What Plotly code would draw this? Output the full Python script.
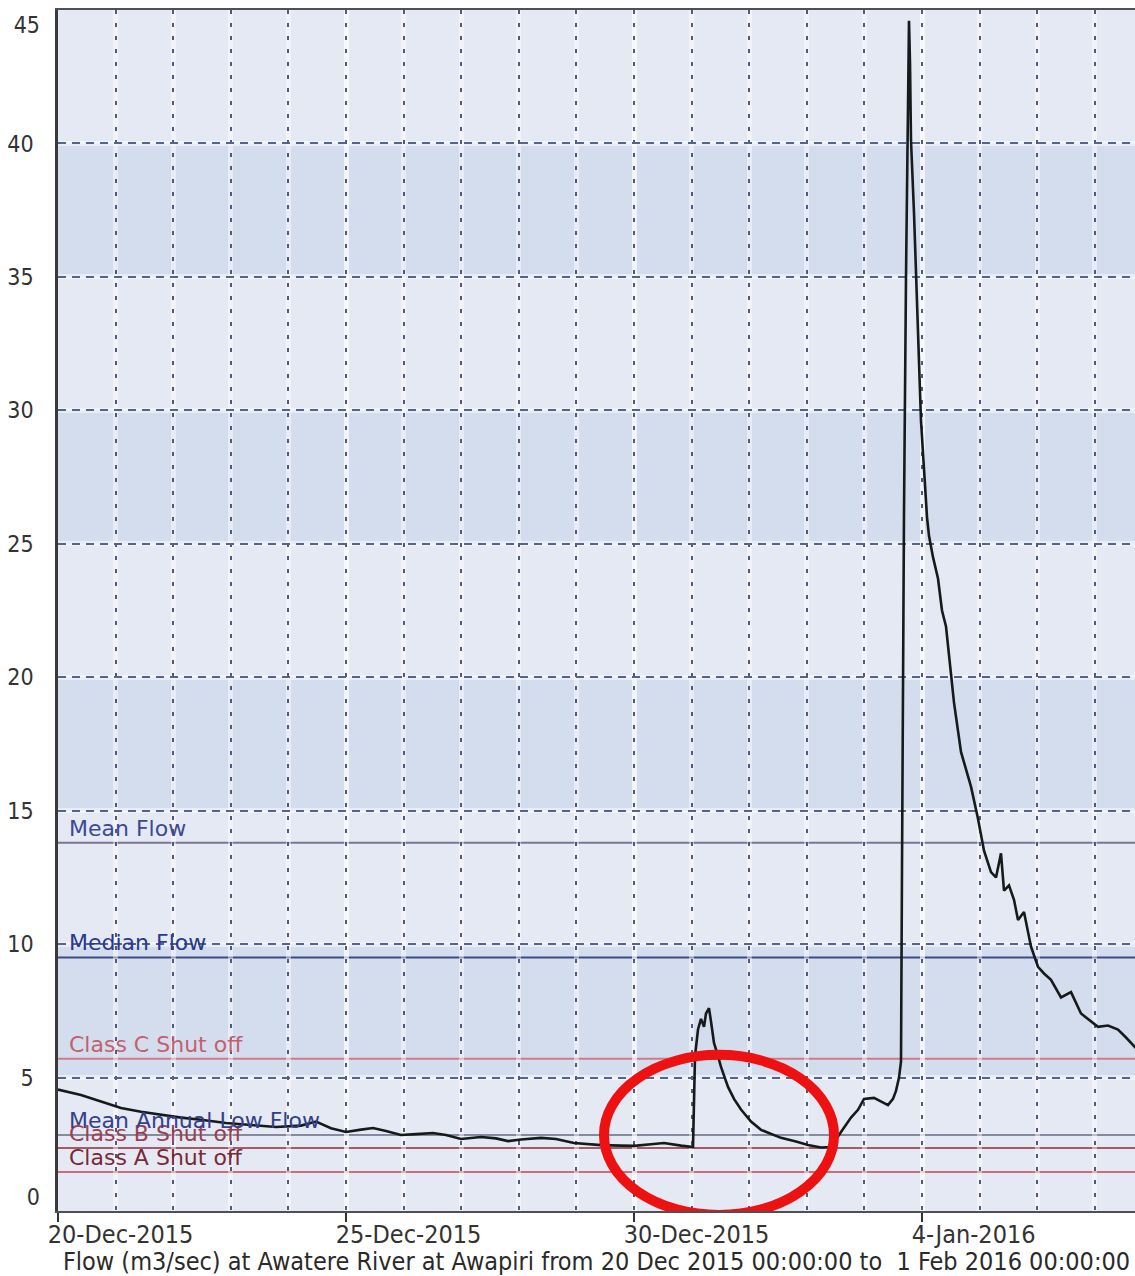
import plotly.graph_objects as go

# ---------------- data ----------------
times = [
    "2015-12-20 00:00", "2015-12-20 09:35", "2015-12-20 17:55", "2015-12-21 02:15",
    "2015-12-21 10:35", "2015-12-21 18:55", "2015-12-22 03:15", "2015-12-22 11:35",
    "2015-12-22 22:00", "2015-12-23 08:25", "2015-12-23 18:50", "2015-12-24 05:15",
    "2015-12-24 11:30", "2015-12-24 17:45", "2015-12-25 00:00", "2015-12-25 06:15",
    "2015-12-25 11:15", "2015-12-25 16:40", "2015-12-25 22:55", "2015-12-26 05:10",
    "2015-12-26 12:15", "2015-12-26 17:40", "2015-12-26 23:55", "2015-12-27 08:15",
    "2015-12-27 14:30", "2015-12-27 19:30", "2015-12-28 00:55", "2015-12-28 09:15",
    "2015-12-28 15:30", "2015-12-28 23:00", "2015-12-29 06:05", "2015-12-29 10:15",
    "2015-12-29 18:35", "2015-12-30 00:00", "2015-12-30 07:05", "2015-12-30 12:30",
    "2015-12-30 19:35", "2015-12-30 23:45", "2015-12-31 00:35", "2015-12-31 01:25",
    "2015-12-31 02:40", "2015-12-31 03:55", "2015-12-31 05:10", "2015-12-31 06:00",
    "2015-12-31 07:15", "2015-12-31 08:05", "2015-12-31 09:20", "2015-12-31 11:00",
    "2015-12-31 12:15", "2015-12-31 15:10", "2015-12-31 17:40", "2015-12-31 20:35",
    "2016-01-01 00:45", "2016-01-01 04:55", "2016-01-01 09:05", "2016-01-01 13:15",
    "2016-01-01 19:30", "2016-01-02 00:30", "2016-01-02 05:55", "2016-01-02 10:05",
    "2016-01-02 14:15", "2016-01-02 18:25", "2016-01-02 21:20", "2016-01-02 23:50",
    "2016-01-03 04:00", "2016-01-03 06:55", "2016-01-03 09:50", "2016-01-03 11:55",
    "2016-01-03 13:10", "2016-01-03 14:25", "2016-01-03 15:15", "2016-01-03 15:40",
    "2016-01-03 16:05", "2016-01-03 16:30", "2016-01-03 17:20", "2016-01-03 18:10",
    "2016-01-03 18:35", "2016-01-03 19:00", "2016-01-03 19:25", "2016-01-03 20:40",
    "2016-01-03 21:30", "2016-01-03 22:20", "2016-01-03 23:35", "2016-01-04 00:50",
    "2016-01-04 02:05", "2016-01-04 02:55", "2016-01-04 04:35", "2016-01-04 06:40",
    "2016-01-04 08:20", "2016-01-04 10:00", "2016-01-04 11:15", "2016-01-04 13:20",
    "2016-01-04 16:15", "2016-01-04 18:20", "2016-01-04 20:25", "2016-01-04 23:20",
    "2016-01-05 01:50", "2016-01-05 04:45", "2016-01-05 06:50", "2016-01-05 08:55",
    "2016-01-05 10:10", "2016-01-05 12:15", "2016-01-05 14:20", "2016-01-05 16:00",
    "2016-01-05 18:30", "2016-01-05 21:25", "2016-01-06 00:20", "2016-01-06 02:50",
    "2016-01-06 05:45", "2016-01-06 09:55", "2016-01-06 14:05", "2016-01-06 18:15",
    "2016-01-06 22:25", "2016-01-07 01:20", "2016-01-07 05:30", "2016-01-07 09:40",
    "2016-01-07 13:00", "2016-01-07 16:20", "2016-01-07 17:10",
]
flow = [
    4.55, 4.35, 4.10, 3.86,
    3.72, 3.60, 3.50, 3.42,
    3.30, 3.22, 3.15, 3.20,
    3.35, 3.10, 2.96, 3.05,
    3.11, 3.00, 2.85, 2.88,
    2.92, 2.85, 2.70, 2.77,
    2.72, 2.62, 2.68, 2.74,
    2.70, 2.55, 2.50, 2.47,
    2.45, 2.44, 2.50, 2.55,
    2.45, 2.40, 2.40, 5.80,
    6.80, 7.20, 6.90, 7.40,
    7.60, 7.10, 6.30, 5.80,
    5.40, 4.65, 4.20, 3.80,
    3.35, 3.04, 2.88, 2.74,
    2.60, 2.47, 2.38, 2.40,
    2.96, 3.50, 3.79, 4.20,
    4.24, 4.10, 3.97, 4.20,
    4.50, 5.00, 5.60, 12.8,
    20.0, 26.2, 35.0, 42.0,
    44.6, 43.0, 40.1, 37.4,
    35.0, 32.9, 29.6, 27.8,
    26.0, 25.3, 24.5, 23.7,
    22.5, 21.9, 20.9, 19.05,
    17.2, 16.5, 15.9, 14.7,
    13.5, 12.7, 12.5, 13.4,
    12.0, 12.2, 11.66, 10.9,
    11.2, 9.9, 9.15, 8.9,
    8.66, 8.0, 8.2, 7.4,
    7.1, 6.9, 6.95, 6.8,
    6.5, 6.15, 6.1,
]

x_range = ["2015-12-20 00:00", "2016-01-07 16:45"]
x_tick_dates = ["2015-12-20", "2015-12-25", "2015-12-30", "2016-01-04"]
x_tick_labels = ["20-Dec-2015", "25-Dec-2015", "30-Dec-2015", "4-Jan-2016"]
y_range = [0, 45]
y_ticks = [0, 5, 10, 15, 20, 25, 30, 35, 40, 45]
y_tick_labels = ["0", "5", "10", "15", "20", "25", "30", "35", "40", "45"]
dark_band_low = [5, 15, 25, 35]
dark_band_high = [10, 20, 30, 40]

threshold_names = ["Mean Flow", "Median Flow", "Class C Shut off",
                   "Class B Shut off", "Mean Annual Low Flow", "Class A Shut off"]
threshold_values = [13.8, 9.5, 5.7, 2.36, 2.85, 1.46]
threshold_line_colors = ["#7a7590", "#3d4a85", "#d27a84", "#a65a66", "#868aa0", "#cc6e7a"]
threshold_text_colors = ["#3b4a94", "#2b3990", "#c4606e", "#9a4050", "#34408c", "#7a2a35"]

highlight_x = ["2015-12-29 11:30", "2016-01-02 11:20"]
highlight_y = [-0.15, 5.85]

x_title = "Flow (m3/sec) at Awatere River at Awapiri from 20 Dec 2015 00:00:00 to \u00a01 Feb 2016 00:00:00"

# ---------------- figure ----------------
DAY_MS = 86400000
NARROW = "Liberation Sans Narrow, Arial Narrow, DejaVu Sans Condensed, sans-serif"
x_tick_font = dict(family=NARROW, size=25, color="#333333")
y_tick_font = dict(family=NARROW, size=23, color="#333333")

# end labels of the y axis sit inside the plot edge in the reference
y_mid_text = [t if y_range[0] < v < y_range[1] else "" for v, t in zip(y_ticks, y_tick_labels)]
y_top_text = [t if v == y_range[1] else "" for v, t in zip(y_ticks, y_tick_labels)]
y_bottom_text = [t if v == y_range[0] else "" for v, t in zip(y_ticks, y_tick_labels)]

fig = go.Figure()
# empty traces so the base and helper axes render
fig.add_trace(go.Scatter(x=[], y=[], xaxis="x", yaxis="y", showlegend=False, hoverinfo="skip"))
fig.add_trace(go.Scatter(x=[], y=[], xaxis="x", yaxis="y3", showlegend=False, hoverinfo="skip"))
fig.add_trace(go.Scatter(
    x=times, y=flow, mode="lines", xaxis="x2", yaxis="y2",
    line=dict(color="#151a1a", width=2.6), showlegend=False,
))

shapes = []
for lo, hi in zip(dark_band_low, dark_band_high):
    shapes.append(dict(type="rect", xref="paper", yref="y", x0=0, x1=1, y0=lo, y1=hi,
                       fillcolor="#d4ddee", line=dict(width=0), layer="below"))
for val, col in zip(threshold_values, threshold_line_colors):
    shapes.append(dict(type="line", xref="paper", yref="y", x0=0, x1=1, y0=val, y1=val,
                       line=dict(color=col, width=2), layer="between"))
shapes.append(dict(type="circle", xref="x", yref="y",
                   x0=highlight_x[0], x1=highlight_x[1], y0=highlight_y[0], y1=highlight_y[1],
                   line=dict(color="#ee1111", width=10), layer="above"))

annotations = []
for name, val, col in zip(threshold_names, threshold_values, threshold_text_colors):
    annotations.append(dict(text=name, xref="paper", yref="y", x=0.008, y=val,
                            xanchor="left", yanchor="bottom", showarrow=False,
                            font=dict(family="DejaVu Sans, sans-serif", size=22, color=col)))

halo = "rgba(255,255,255,0.45)"

fig.update_layout(
    width=1135, height=1276,
    margin=dict(l=58, r=0, t=10, b=65, autoexpand=False),
    paper_bgcolor="white",
    plot_bgcolor="#e5e9f4",
    showlegend=False,
    hovermode=False,
    shapes=shapes,
    annotations=annotations,
    # base x axis: tick marks, labels, title and white halo grid
    xaxis=dict(
        type="date", range=x_range, automargin=False,
        tickmode="array", tickvals=x_tick_dates, ticktext=x_tick_labels,
        ticks="outside", ticklen=9, tickwidth=1.5, tickcolor="#333333",
        ticklabelposition="outside right", ticklabelshift=-12,
        ticklabeloverflow="allow",
        tickfont=x_tick_font,
        showgrid=True, gridcolor=halo, gridwidth=5,
        minor=dict(tickmode="linear", tick0=x_tick_dates[0], dtick=DAY_MS,
                   showgrid=True, gridcolor=halo, gridwidth=5),
        showline=True, linecolor="#505050", linewidth=2, mirror=True,
        zeroline=False,
        title=dict(text=x_title, standoff=0,
                   font=dict(family=NARROW, size=25, color="#2a2a2a")),
    ),
    # overlay x axis: dotted daily grid
    xaxis2=dict(
        type="date", range=x_range, overlaying="x", anchor="y2", side="bottom",
        automargin=False, tickmode="linear", tick0=x_tick_dates[0], dtick=DAY_MS,
        showticklabels=False, ticks="",
        showgrid=True, gridcolor="#4f5a7c", gridwidth=2, griddash="4px,9px",
        showline=False, zeroline=False,
    ),
    # base y axis: middle labels and white halo grid
    yaxis=dict(
        range=y_range, automargin=False,
        tickmode="array", tickvals=y_ticks, ticktext=y_mid_text,
        ticks="", ticklabelstandoff=17, ticklabeloverflow="allow",
        tickfont=y_tick_font,
        showgrid=True, gridcolor=halo, gridwidth=5,
        showline=True, linecolor="#3a3a3a", linewidth=2.5,
        zeroline=False,
    ),
    # overlay y axis: dashed grid + top label (moved down inside the plot edge)
    yaxis2=dict(
        range=y_range, overlaying="y", anchor="x2", side="left", automargin=False,
        tickmode="array", tickvals=y_ticks, ticktext=y_top_text, ticks="",
        ticklabelstandoff=17, ticklabelshift=15, ticklabeloverflow="allow",
        tickfont=y_tick_font,
        showgrid=True, gridcolor="#55658a", gridwidth=1.5, griddash="8px,6px",
        showline=False, zeroline=False,
    ),
    # helper y axis: bottom label (moved up inside the plot edge)
    yaxis3=dict(
        range=y_range, overlaying="y", anchor="x", side="left", automargin=False,
        tickmode="array", tickvals=y_ticks, ticktext=y_bottom_text, ticks="",
        ticklabelstandoff=17, ticklabelshift=-14, ticklabeloverflow="allow",
        tickfont=y_tick_font,
        showgrid=False, showline=False, zeroline=False,
    ),
)

fig.write_html("out.html", config={"displayModeBar": False},
               post_script="document.body.style.margin='0px';")
